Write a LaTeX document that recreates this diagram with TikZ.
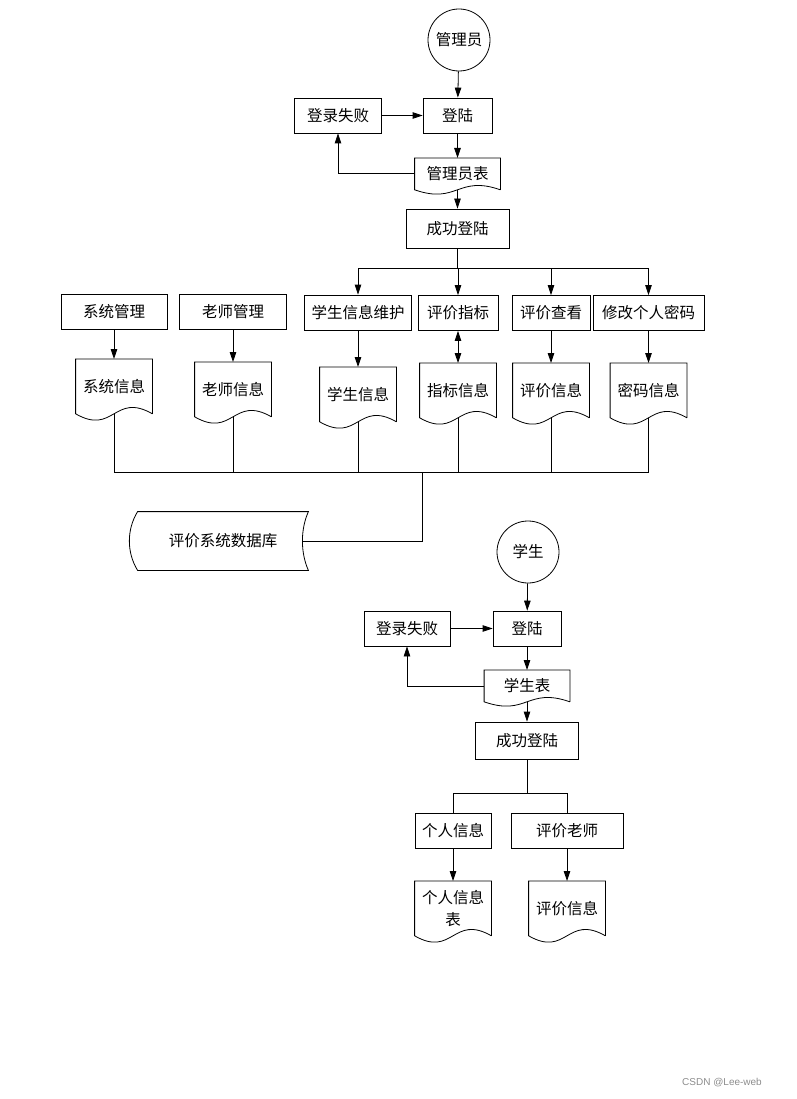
\documentclass[tikz,border=0pt]{standalone}
\usepackage{fontspec}
\setmainfont{Noto Sans CJK SC}
\newfontfamily\marcafont{Liberation Sans}
\usetikzlibrary{arrows.meta,positioning,calc}
\definecolor{GrisMarca}{HTML}{8C8C8C}
\tikzset{
  caja/.style   = {draw, align=center, inner sep=2pt, minimum height=35pt},
  rol/.style    = {draw, circle, minimum size=62pt, inner sep=0pt},
  docu/.style   = {align=center, inner sep=0pt, minimum width=76pt,
                   minimum height=54pt, anchor=north},
  tabla/.style  = {docu, minimum width=85pt, minimum height=31pt},
  enlace/.style = {-{Triangle[length=10pt,width=6.5pt]}},
  doble/.style  = {{Triangle[length=10pt,width=6.5pt]}-{Triangle[length=10pt,width=6.5pt]}},
  marca/.style  = {font=\marcafont\fontsize{10}{12}\selectfont, text=GrisMarca},
}
\begin{document}
\begin{tikzpicture}[x=1pt,y=-1pt,line width=0.8pt,font=\fontsize{15.5}{22}\selectfont]
  \useasboundingbox (0,0) rectangle (796,1099);
  % administrador
  \node[rol] (adm) at (459,40) {管理员};
  \node[caja,minimum width=69pt] (login1) at (457.5,115.5) {登陆};
  \node[caja,minimum width=87pt] (fail1) at (338,115.5) {登录失败};
  \node[tabla] (admtab) at (457.5,158) {管理员表};
  \node[caja,minimum width=103pt,minimum height=39pt] (ok1) at (457.5,228.5) {成功登陆};
  \coordinate (bus1) at (0,268);
  \node[caja,minimum width=106pt] (sysmg) at (114,311.5) {系统管理};
  \node[caja,minimum width=107pt] (teamg) at (233,311.5) {老师管理};
  \node[caja,minimum width=107pt] (stumt) at (358,312.5) {学生信息维护};
  \node[caja,minimum width=80pt] (idx) at (458,313) {评价指标};
  \node[caja,minimum width=78pt] (view) at (551,313) {评价查看};
  \node[caja,minimum width=111pt] (pwd) at (648.5,313) {修改个人密码};
  \node[docu] (sysinfo) at (114,359) {系统信息};
  \node[docu] (teainfo) at (233,362) {老师信息};
  \node[docu] (stuinfo) at (358,367) {学生信息};
  \node[docu] (idxinfo) at (458,363) {指标信息};
  \node[docu] (evalinfo) at (551,363) {评价信息};
  \node[docu] (pwdinfo) at (648.5,363) {密码信息};
  \coordinate (bus2) at (0,472);
  \coordinate (jn) at (422,472);
  \node[minimum width=170pt,minimum height=58pt] (db) at (223,541) {评价系统数据库};
  \draw (db.north west) -- (db.north east)
    .. controls ([xshift=-8pt,yshift=-18pt]db.north east) and ([xshift=-8pt,yshift=18pt]db.south east) .. (db.south east)
    -- (db.south west)
    .. controls ([xshift=-11pt,yshift=18pt]db.south west) and ([xshift=-11pt,yshift=-18pt]db.north west) .. cycle;

  \draw[enlace] (adm) -- (login1);
  \draw[enlace] (fail1) -- (login1);
  \draw[enlace] (login1) -- (admtab);
  \draw[enlace] (admtab.west) -| (fail1.south);
  \draw[enlace] (admtab) -- (ok1);
  \draw (ok1.south) -- (ok1.south |- bus1);
  \draw (bus1 -| stumt) -- (bus1 -| pwd);
  \foreach \n in {stumt,idx,view,pwd}
    \draw[enlace] (bus1 -| \n) -- (\n);
  \draw[enlace] (sysmg) -- (sysinfo);
  \draw[enlace] (teamg) -- (teainfo);
  \draw[enlace] (stumt) -- (stuinfo);
  \draw[doble] (idx) -- (idxinfo);
  \draw[enlace] (view) -- (evalinfo);
  \draw[enlace] (pwd) -- (pwdinfo);
  \foreach \n in {sysinfo,teainfo,stuinfo,idxinfo,evalinfo,pwdinfo}
    \draw (\n.south) -- (\n.south |- bus2);
  \draw (sysinfo.south |- bus2) -- (pwdinfo.south |- bus2);
  \draw (jn) |- ([xshift=-6pt]db.east);

  % alumno
  \node[rol] (stu) at (528,552) {学生};
  \node[caja,minimum width=68pt] (login2) at (527,628.5) {登陆};
  \node[caja,minimum width=86pt] (fail2) at (407,628.5) {登录失败};
  \node[tabla] (stutab) at (527,670) {学生表};
  \node[caja,minimum width=103pt,minimum height=37pt] (ok2) at (527,740.5) {成功登陆};
  \coordinate (bus3) at (0,793);
  \node[caja,minimum width=76pt] (info) at (453,831) {个人信息};
  \node[caja,minimum width=112pt] (rate) at (567,831) {评价老师};
  \node[docu] (infotab) at (453,881) {个人信息\\表};
  \node[docu] (rinfo) at (567,881) {评价信息};

  \draw[enlace] (stu) -- (login2);
  \draw[enlace] (fail2) -- (login2);
  \draw[enlace] (login2) -- (stutab);
  \draw[enlace] (stutab.west) -| (fail2.south);
  \draw[enlace] (stutab) -- (ok2);
  \draw (ok2.south) -- (ok2.south |- bus3);
  \draw (bus3 -| info) -- (bus3 -| rate);
  \draw (bus3 -| info) -- (info);
  \draw (bus3 -| rate) -- (rate);
  \draw[enlace] (info) -- (infotab);
  \draw[enlace] (rate) -- (rinfo);

  % contornos de documento
  \foreach \n in {sysinfo,teainfo,stuinfo,idxinfo,evalinfo,pwdinfo,infotab,rinfo}
    \draw (\n.south east) -- (\n.north east) -- (\n.north west) -- (\n.south west)
      .. controls ([yshift=-22pt]\n.south) and ([yshift=22pt]\n.south) .. (\n.south east);
  \foreach \n in {admtab,stutab}
    \draw (\n.south east) -- (\n.north east) -- (\n.north west) -- (\n.south west)
      .. controls ([yshift=-15pt]\n.south) and ([yshift=15pt]\n.south) .. (\n.south east);

  \node[marca] (csdn) at (722,1083) {CSDN @Lee-web};
\end{tikzpicture}
\end{document}
